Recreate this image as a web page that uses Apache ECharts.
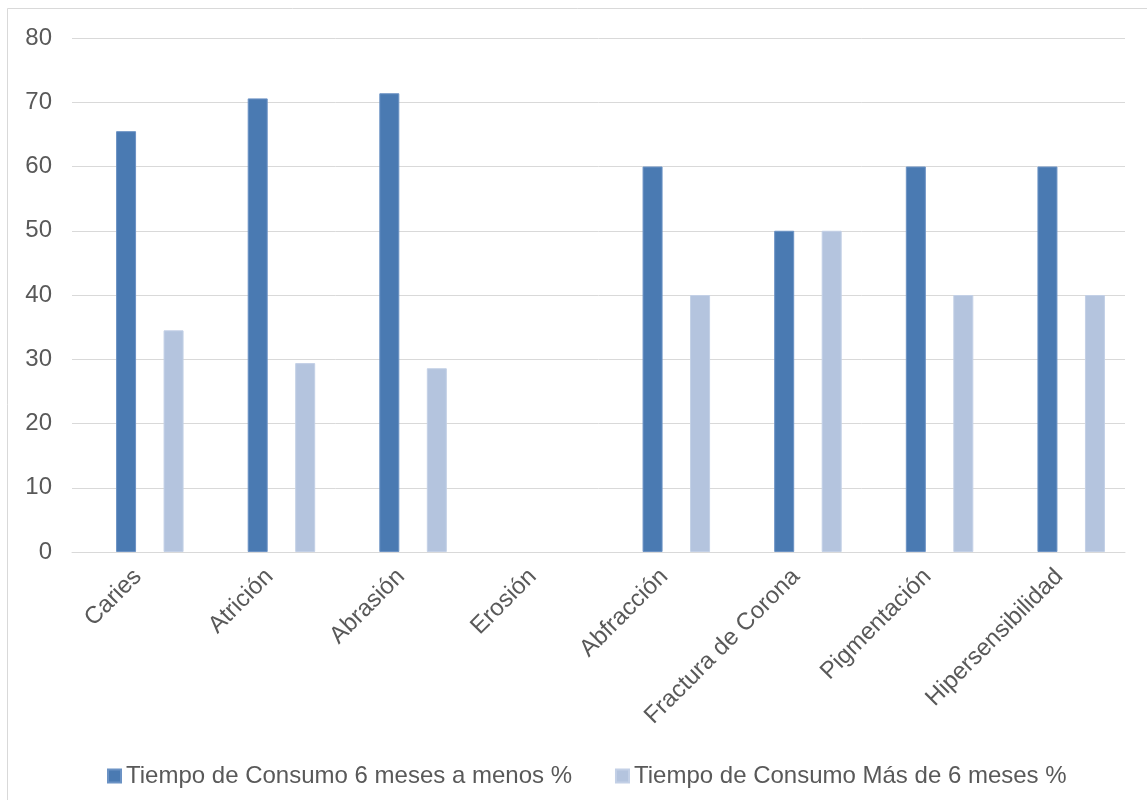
<!DOCTYPE html>
<html>
<head>
<meta charset="utf-8">
<script src="https://cdn.jsdelivr.net/npm/echarts@6/dist/echarts.min.js"></script>
<style>
  html, body { margin: 0; padding: 0; background: #fff; }
  #chart { width: 1147px; height: 800px; }
</style>
</head>
<body>
<div id="chart"></div>
<script>
// Lesiones dentales por tiempo de consumo (%)
const categories = ['Caries', 'Atrición', 'Abrasión', 'Erosión', 'Abfracción', 'Fractura de Corona', 'Pigmentación', 'Hipersensibilidad'];
const seriesNames = ['Tiempo de Consumo 6 meses a menos %', 'Tiempo de Consumo Más de 6 meses %'];
const menosDe6 = [65.5, 70.6, 71.4, 0, 60, 50, 60, 60];
const masDe6 = [34.5, 29.4, 28.6, 0, 40, 50, 40, 40];
const yTicks = { min: 0, max: 80, interval: 10 };

const textColor = '#595959';
const font = '"Liberation Sans", Arial, sans-serif';

// zero values draw no bar outline
const withBorder = (values) => values.map(v => v === 0 ? { value: v, itemStyle: { borderWidth: 0 } } : v);

const chart = echarts.init(document.getElementById('chart'), null, { renderer: 'canvas' });

chart.setOption({
  animation: false,
  backgroundColor: '#fff',
  graphic: [{
    type: 'polyline',
    shape: { points: [[7.5, 800], [7.5, 8.5], [1147, 8.5]] },
    style: { stroke: '#d9d9d9', lineWidth: 1, fill: null },
    silent: true
  }],
  grid: [
    // axes, gridlines and category labels
    { left: 72, right: 22, top: 38, bottom: 248, containLabel: false },
    // bars
    { left: 84, right: 10, top: 38, bottom: 248, containLabel: false }
  ],
  legend: {
    data: seriesNames,
    left: 107,
    top: 764,
    padding: 0,
    itemWidth: 13,
    itemHeight: 13,
    itemGap: 43,
    icon: 'rect',
    textStyle: { color: textColor, fontSize: 24, fontFamily: font, padding: [0, 0, 0, 0] }
  },
  xAxis: [
    {
      gridIndex: 0,
      type: 'category',
      data: categories,
      axisLine: { show: true, lineStyle: { color: '#d9d9d9', width: 1 } },
      axisTick: { show: false },
      axisLabel: {
        interval: 0,
        rotate: 45,
        color: textColor,
        fontSize: 24,
        fontFamily: font,
        margin: 21
      }
    },
    {
      gridIndex: 1,
      type: 'category',
      data: categories,
      show: false
    }
  ],
  yAxis: [
    {
      gridIndex: 0,
      type: 'value',
      min: yTicks.min,
      max: yTicks.max,
      interval: yTicks.interval,
      axisLine: { show: false },
      axisTick: { show: false },
      splitLine: { lineStyle: { color: '#d9d9d9', width: 1 } },
      axisLabel: { color: textColor, fontSize: 24, fontFamily: font, margin: 20 }
    },
    {
      gridIndex: 1,
      type: 'value',
      min: yTicks.min,
      max: yTicks.max,
      interval: yTicks.interval,
      show: false,
      splitLine: { show: false }
    }
  ],
  series: [
    {
      name: seriesNames[0],
      type: 'bar',
      xAxisIndex: 1,
      yAxisIndex: 1,
      data: withBorder(menosDe6),
      barWidth: 20,
      barGap: '137.5%',
      itemStyle: { color: '#4a7ab2', borderColor: '#6b92c4', borderWidth: 1 }
    },
    {
      name: seriesNames[1],
      type: 'bar',
      xAxisIndex: 1,
      yAxisIndex: 1,
      data: withBorder(masDe6),
      barWidth: 20,
      barGap: '137.5%',
      itemStyle: { color: '#b4c4de', borderColor: '#c3d0e6', borderWidth: 1 }
    }
  ]
});
</script>
</body>
</html>
